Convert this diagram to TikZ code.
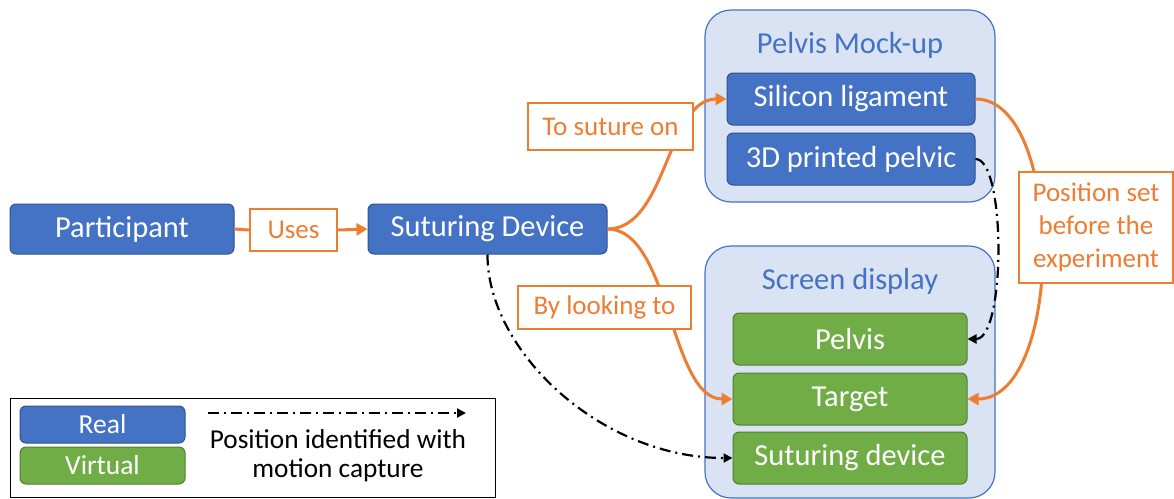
\documentclass[tikz,border=0pt]{standalone}
\usepackage{fontspec}
\setmainfont{Carlito}
\usetikzlibrary{arrows.meta}
\definecolor{cblue}{HTML}{4472C4}
\definecolor{cblueb}{HTML}{2F528F}
\definecolor{cgreen}{HTML}{70AD47}
\definecolor{cgreenb}{HTML}{507E32}
\definecolor{corange}{HTML}{ED7D31}
\definecolor{clight}{HTML}{DAE3F3}
\tikzset{
  realbox/.style={draw=cblueb, fill=cblue, line width=1pt, rounded corners=6pt, text=white, inner sep=0pt, font=\fontsize{30.5}{34}\selectfont},
  virtbox/.style={draw=cgreenb, fill=cgreen, line width=1pt, rounded corners=6pt, text=white, inner sep=0pt, font=\fontsize{30.5}{34}\selectfont},
  group/.style={draw=cblue, fill=clight, line width=1.2pt, rounded corners=26pt, inner sep=0pt},
  grouptitle/.style={text=cblue, font=\fontsize{30.5}{34}\selectfont},
  lbl/.style={draw=corange, fill=white, line width=2.4pt, text=corange, inner sep=0pt, font=\fontsize{27}{33}\selectfont, align=center},
  oarrow/.style={draw=corange, line width=3pt, -{Triangle[length=11pt,width=12pt]}},
  oline/.style={draw=corange, line width=3pt},
  mocap/.style={draw=black, line width=2.2pt, dash pattern=on 11pt off 5pt on 2pt off 5pt, -{Triangle[length=9pt,width=9pt]}},
}
\begin{document}
\begin{tikzpicture}[x=1pt,y=-1pt]
\useasboundingbox (0,0) rectangle (1174,498);
% groups
\node[group, minimum width=290pt, minimum height=192pt] (mock) at (850,106) {};
\node[grouptitle] (mocktitle) at (850,45) {Pelvis Mock-up};
\node[group, minimum width=290pt, minimum height=252pt] (screen) at (850,372) {};
\node[grouptitle] (screentitle) at (850,281) {Screen display};
% boxes
\node[realbox, minimum width=224pt, minimum height=50pt] (part) at (122,229) {Participant};
\node[realbox, minimum width=239pt, minimum height=50pt] (sd) at (487.5,229) {Suturing Device};
\node[realbox, minimum width=248pt, minimum height=52pt] (sil) at (851,99) {Silicon ligament};
\node[realbox, minimum width=248pt, minimum height=52pt] (pel3d) at (851,159) {3D printed pelvic};
\node[virtbox, minimum width=234pt, minimum height=52pt] (vpel) at (850,339) {Pelvis};
\node[virtbox, minimum width=234pt, minimum height=52pt] (vtar) at (850,399) {Target};
\node[virtbox, minimum width=234pt, minimum height=52pt] (vsd) at (850,458) {Suturing device};
% curved connectors
\draw[oarrow] (sd.east) .. controls (667,229) and (667,99) .. (sil.west);
\draw[oarrow] (sd.east) .. controls (670,229) and (670,399) .. (vtar.west);
\draw[oarrow] (sil.east) .. controls (1065,99) and (1065,399) .. (vtar.east);
\draw[mocap] (pel3d.east) .. controls (1006,159) and (1006,339) .. (vpel.east);
\draw[mocap] (sd.south) .. controls (487,350) and (600,458) .. (vsd.west);
% labels
\node[lbl, minimum width=87pt, minimum height=42pt] (uses) at (293.5,230) {Uses};
\draw[oline] (part.east) -- (uses.west);
\draw[oarrow] (uses.east) -- (sd.west);
\node[lbl, minimum width=165pt, minimum height=47pt] (suture) at (610.5,126.5) {To suture on};
\node[lbl, minimum width=173pt, minimum height=43pt] (look) at (604.5,307.5) {By looking to};
\node[lbl, minimum width=154pt, minimum height=111pt] (posset) at (1096,227.5) {Position set\\before the\\experiment};
% legend
\node[draw=black, line width=1pt, inner sep=0pt, minimum width=485pt, minimum height=99pt] (legend) at (252.5,447.5) {};
\node[realbox, minimum width=165pt, minimum height=37pt, font=\fontsize{27.5}{30}\selectfont] (lreal) at (102.5,424.5) {Real};
\node[virtbox, minimum width=165pt, minimum height=37pt, font=\fontsize{27.5}{30}\selectfont] (lvirt) at (102.5,465.5) {Virtual};
\coordinate (la) at (208,413);
\coordinate (lb) at (466,413);
\draw[mocap] (la) -- (lb);
\node[align=center, font=\fontsize{27.3}{29}\selectfont] (ltext) at (338,456) {Position identified with\\motion capture};
\end{tikzpicture}
\end{document}
